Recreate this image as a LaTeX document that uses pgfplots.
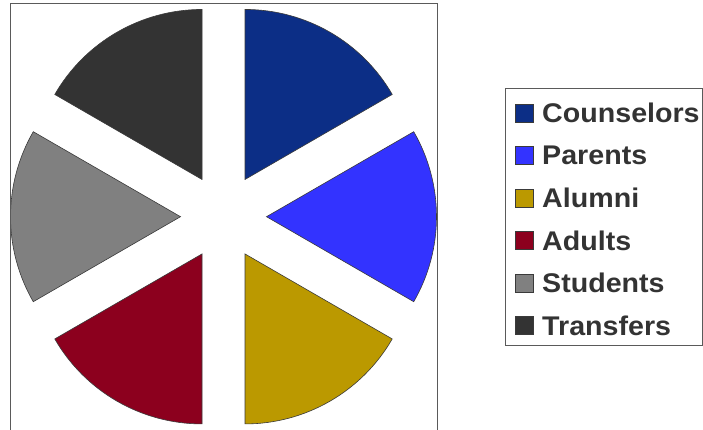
\documentclass[border=0pt]{standalone}
\usepackage{pgfplots}
\pgfplotsset{compat=1.18}
\usepackage{fontspec}
\setmainfont{Liberation Sans}
\usetikzlibrary{calc}
\definecolor{cCoun}{HTML}{0C2E86}
\definecolor{cPar}{HTML}{3333FF}
\definecolor{cAlu}{HTML}{BB9900}
\definecolor{cAdu}{HTML}{8C001E}
\definecolor{cStu}{HTML}{808080}
\definecolor{cTra}{HTML}{333333}
\definecolor{outl}{HTML}{3A3A3A}
\definecolor{frame}{HTML}{5A5A5A}
\definecolor{txt}{HTML}{333333}
\begin{document}
\begin{tikzpicture}
\begin{axis}[x=1pt,y=1pt,xmin=0,xmax=703,ymin=0,ymax=429,hide axis,clip=true]
% invisible path for full size
\addplot[draw=none,forget plot] coordinates {(0,0) (703,429)};
\pgfplotsextra{
  % equal shares: Counselors, Parents, Alumni, Adults, Students, Transfers
  \foreach \col/\v [count=\i from 0] in {cCoun/1,cPar/1,cAlu/1,cAdu/1,cStu/1,cTra/1}{
    \pgfmathsetmacro\sa{90-360/6*\i}
    \pgfmathsetmacro\ea{\sa-360*\v/6}
    \pgfmathsetmacro\md{(\sa+\ea)/2}
    \fill[\col,draw=outl,line width=0.6pt]
      ($(axis cs:223.5,212.3)+(\md:43pt)$) -- ++(\sa:170pt)
      arc[start angle=\sa,end angle=\ea,radius=170pt] -- cycle;
  }
  \draw[frame,line width=0.9pt] (axis cs:10,-20) -- (axis cs:10,426) -- (axis cs:437,426) -- (axis cs:437,-20);
  % legend
  \draw[frame,line width=0.9pt] (axis cs:505.5,341) rectangle (axis cs:702,84);
  \foreach \col/\nm/\yy in {cCoun/Counselors/113,cPar/Parents/155.5,cAlu/Alumni/198,cAdu/Adults/240.5,cStu/Students/283,cTra/Transfers/325.5}{
    \fill[\col,draw=outl,line width=0.6pt] (axis cs:515,429-\yy-9) rectangle (axis cs:533,429-\yy+9);
    \node[anchor=west,inner sep=0pt,text=txt,font=\fontsize{27}{30}\selectfont\bfseries,xscale=1.06] at (axis cs:542,429-\yy) {\nm};
  }
}
\end{axis}
\end{tikzpicture}
\end{document}
